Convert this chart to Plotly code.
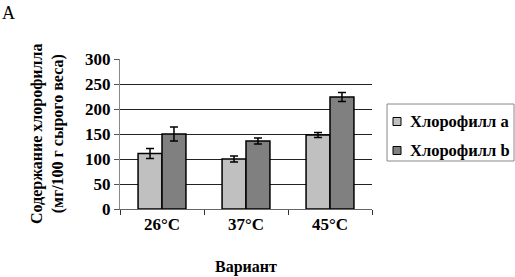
import plotly.graph_objects as go

categories = ["26°C", "37°C", "45°C"]
chl_a = [111, 100, 148]
chl_a_err = [10, 6, 5]
chl_b = [150, 136, 224]
chl_b_err = [14, 6, 9]
series_names = ["Хлорофилл a", "Хлорофилл b"]
series_colors = ["#c0c0c0", "#808080"]
y_ticks = [0, 50, 100, 150, 200, 250, 300]

font_family = "Liberation Serif"

# plot area in page pixels: x 120..372, y 59..209
PX_L, PX_R, PX_T, PX_B = 120, 372, 59, 209


def px(xp):
    return (xp - PX_L) / (PX_R - PX_L)


def py(yp):
    return (PX_B - yp) / (PX_B - PX_T)


fig = go.Figure()
for vals, errs, name, col in [(chl_a, chl_a_err, series_names[0], series_colors[0]),
                              (chl_b, chl_b_err, series_names[1], series_colors[1])]:
    fig.add_trace(go.Bar(
        x=categories, y=vals, name=name,
        marker=dict(color=col, line=dict(color="black", width=1.5)),
        error_y=dict(type="data", array=errs, visible=True, color="black", thickness=1.5, width=4),
    ))

shapes = [dict(type="rect", xref="paper", yref="paper",
               x0=px(387), x1=px(514), y0=py(161), y1=py(104),
               line=dict(color="#888888", width=1), fillcolor="white", layer="above")]
annotations = []
for i, (name, col) in enumerate(zip(series_names, series_colors)):
    yc = 121.5 + i * 29
    shapes.append(dict(type="rect", xref="paper", yref="paper",
                       x0=px(393), x1=px(401), y0=py(yc + 4), y1=py(yc - 4),
                       line=dict(color="black", width=1), fillcolor=col, layer="above"))
    annotations.append(dict(text="<b>" + name + "</b>", x=px(408), y=py(yc),
                            xref="paper", yref="paper", showarrow=False,
                            xanchor="left", yanchor="middle",
                            font=dict(family=font_family, size=16.5, color="black")))

annotations += [
    dict(text="А", x=px(0), y=py(1), xref="paper", yref="paper", showarrow=False,
         font=dict(family=font_family, size=18, color="black"),
         xanchor="left", yanchor="top"),
    dict(text="<b>Содержание хлорофилла<br>(мг/100 г сырого веса)</b>",
         x=px(47), y=py(134), xref="paper", yref="paper", showarrow=False,
         textangle=-90, font=dict(family=font_family, size=16, color="black"),
         xanchor="center", yanchor="middle"),
    dict(text="<b>Вариант</b>", x=px(246), y=py(267), xref="paper", yref="paper",
         showarrow=False, font=dict(family=font_family, size=16, color="black"),
         xanchor="center", yanchor="middle"),
]

fig.update_layout(
    width=515, height=277,
    margin=dict(l=120, r=143, t=59, b=68, pad=0),
    paper_bgcolor="white", plot_bgcolor="white",
    barmode="group", bargap=0.43, bargroupgap=0,
    font=dict(family=font_family, color="black"),
    showlegend=False,
    xaxis=dict(
        showline=True, linecolor="#666666", linewidth=1,
        ticks="outside", ticklen=5, tickcolor="#333333",
        tickson="boundaries",
        tickfont=dict(family=font_family, size=17, color="black", weight="bold"),
        showgrid=False,
    ),
    yaxis=dict(
        range=[0, 300], tickvals=y_ticks,
        showline=True, linecolor="#888888", linewidth=1,
        ticks="outside", ticklen=5, tickcolor="#555555",
        tickfont=dict(family=font_family, size=17, color="black", weight="bold"),
        showgrid=True, gridcolor="#222222", gridwidth=1,
        zeroline=False,
    ),
    shapes=shapes,
    annotations=annotations,
)

fig.write_html(
    "out.html",
    config={"displayModeBar": False},
    post_script="document.body.style.margin='0';document.body.style.overflow='hidden';",
)
